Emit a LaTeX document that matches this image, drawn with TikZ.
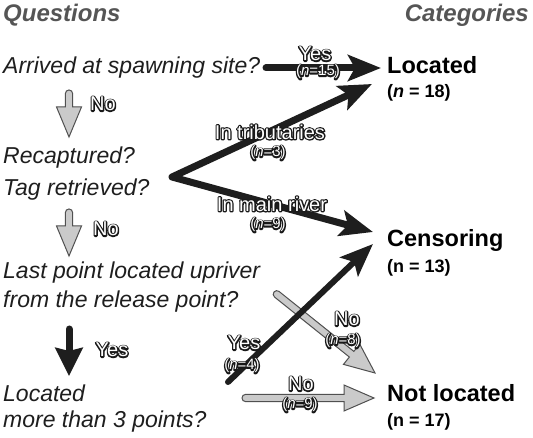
\documentclass[tikz,border=0pt]{standalone}
\usepackage{fontspec}
\setmainfont{Liberation Sans}
\usetikzlibrary{arrows.meta,calc}
\definecolor{ink}{HTML}{1E1E1E}
\definecolor{titlegray}{HTML}{555555}
\definecolor{arrowgray}{HTML}{CACACA}
\definecolor{edgegray}{HTML}{505050}
\tikzset{
  qtext/.style={anchor=west, inner sep=0pt, text=ink, font=\fontsize{23}{23}\selectfont\itshape},
  ttext/.style={inner sep=0pt, text=titlegray, font=\fontsize{24}{24}\selectfont\bfseries\itshape},
  ctext/.style={anchor=west, inner sep=0pt, text=black, font=\fontsize{23.5}{23.5}\selectfont\bfseries},
  ntext/.style={anchor=west, inner sep=0pt, text=black, font=\fontsize{18}{18}\selectfont\bfseries},
  lab/.style={inner sep=0pt, text=white, font=\fontsize{20}{20}\selectfont},
  nlab/.style={inner sep=0pt, text=white, font=\fontsize{15}{15}\selectfont},
  blk/.style={draw=ink, line width=7pt, line cap=round, line join=round,
    -{Stealth[length=33pt,width=26pt,inset=7pt]}},
  blkv/.style={draw=ink, line width=7pt, line cap=round,
    -{Stealth[length=28pt,width=27pt,inset=3pt]}},
  garrow/.style={fill=arrowgray, draw=edgegray, line width=1pt, line join=miter},
}
% gray block arrow: #1 start, #2 tip, #3 head length, #4 head half width
\newcommand\grayarrow[4]{%
  \coordinate (gaB) at ($(#2)!#3!(#1)$);
  \filldraw[garrow]
    ($(gaB)!3.6pt!90:(#2)$) -- ($(gaB)!#4!90:(#2)$) -- (#2)
    -- ($(gaB)!#4!-90:(#2)$) -- ($(gaB)!3.6pt!-90:(#2)$)
    [rounded corners=3.5pt] -- ($(#1)!3.6pt!-90:(#2)$) -- ($(#1)!3.6pt!90:(#2)$)
    [sharp corners] -- cycle;
}
% outlined text: thick dark stroke underneath, white fill on top
\newcommand\halo[1]{\rlap{\special{pdf:literal direct 1 Tr 2.6 w 1 J 1 j 0.1 0.1 0.1 RG}#1\special{pdf:literal direct 0 Tr}}#1}
\begin{document}
\begin{tikzpicture}[x=1pt,y=-1pt]
\useasboundingbox (0,0) rectangle (533,438);

% titles
\node[ttext, anchor=west] (tq) at (3,15) {Questions};
\node[ttext, anchor=east] (tc) at (529,15) {Categories};

% questions
\node[qtext] (q1) at (3,68) {Arrived at spawning site?};
\node[qtext] (q2a) at (3,158) {Recaptured?};
\node[qtext] (q2b) at (3,190) {Tag retrieved?};
\node[qtext] (q3a) at (3,273) {Last point located upriver};
\node[qtext] (q3b) at (3,302) {from the release point?};
\node[qtext] (q4a) at (3,393) {Located};
\node[qtext] (q4b) at (3,422) {more than 3 points?};

% categories
\node[ctext] (c1) at (387,65) {Located};
\node[ntext] (c1n) at (387,93) {(\textit{n} = 18)};
\node[ctext] (c2) at (387,240) {Censoring};
\node[ntext] (c2n) at (387,268) {(n = 13)};
\node[ctext] (c3) at (387,393) {Not located};
\node[ntext] (c3n) at (387,422) {(n = 17)};

% connector end points
\coordinate (s1) at (266,68);
\coordinate (t1) at (381,68);
\coordinate (j2) at (172,177);
\coordinate (t2a) at (372,84);
\coordinate (t2b) at (373,232);
\coordinate (s4y) at (228,382);
\coordinate (t4y) at (373,244);
\coordinate (s3n) at (274,292);
\coordinate (t3n) at (375,373);
\coordinate (s4n) at (242,398);
\coordinate (t4n) at (374,398);
\coordinate (v1s) at (69,90);
\coordinate (v1t) at (69,137);
\coordinate (v2s) at (69,209);
\coordinate (v2t) at (69,256);
\coordinate (v3s) at (69,329);
\coordinate (v3t) at (69,376);

% vertical arrows
\grayarrow{v1s}{v1t}{30pt}{12.5pt}
\grayarrow{v2s}{v2t}{30pt}{12.5pt}
\draw[blkv] (v3s) -- (v3t);

% gray diagonal / horizontal arrows
\grayarrow{s3n}{t3n}{30pt}{13pt}
\grayarrow{s4n}{t4n}{30pt}{13pt}

% black arrows
\draw[blk] (s1) -- (t1);
\draw[blk, {Stealth[length=33pt,width=26pt,inset=7pt]}-{Stealth[length=33pt,width=26pt,inset=7pt]}] (t2a) -- (j2) -- (t2b);
\draw[blk, line width=6pt] (s4y) -- (t4y);

% labels
\node[lab] (lv1) at (103,104) {\halo{No}};
\node[lab] (lv2) at (106,229) {\halo{No}};
\node[lab] (lv3) at (112,350) {\halo{Yes}};

\node[lab] (l1) at (315,54) {\halo{Yes}};
\node[nlab] (l1n) at (318,72) {\halo{(\textit{n}=15)}};
\node[lab] (l2) at (270,132) {\halo{In tributaries}};
\node[nlab] (l2n) at (268,153) {\halo{(\textit{n}=3)}};
\node[lab] (l3) at (272,204) {\halo{In main river}};
\node[nlab] (l3n) at (268,225) {\halo{(\textit{n}=9)}};
\node[lab] (l4) at (244,343) {\halo{Yes}};
\node[nlab] (l4n) at (242,366) {\halo{(\textit{n}=4)}};
\node[lab] (l5) at (347,319) {\halo{No}};
\node[nlab] (l5n) at (343,341) {\halo{(\textit{n}=8)}};
\node[lab] (l6) at (301,384) {\halo{No}};
\node[nlab] (l6n) at (300,405) {\halo{(\textit{n}=9)}};
\end{tikzpicture}
\end{document}
